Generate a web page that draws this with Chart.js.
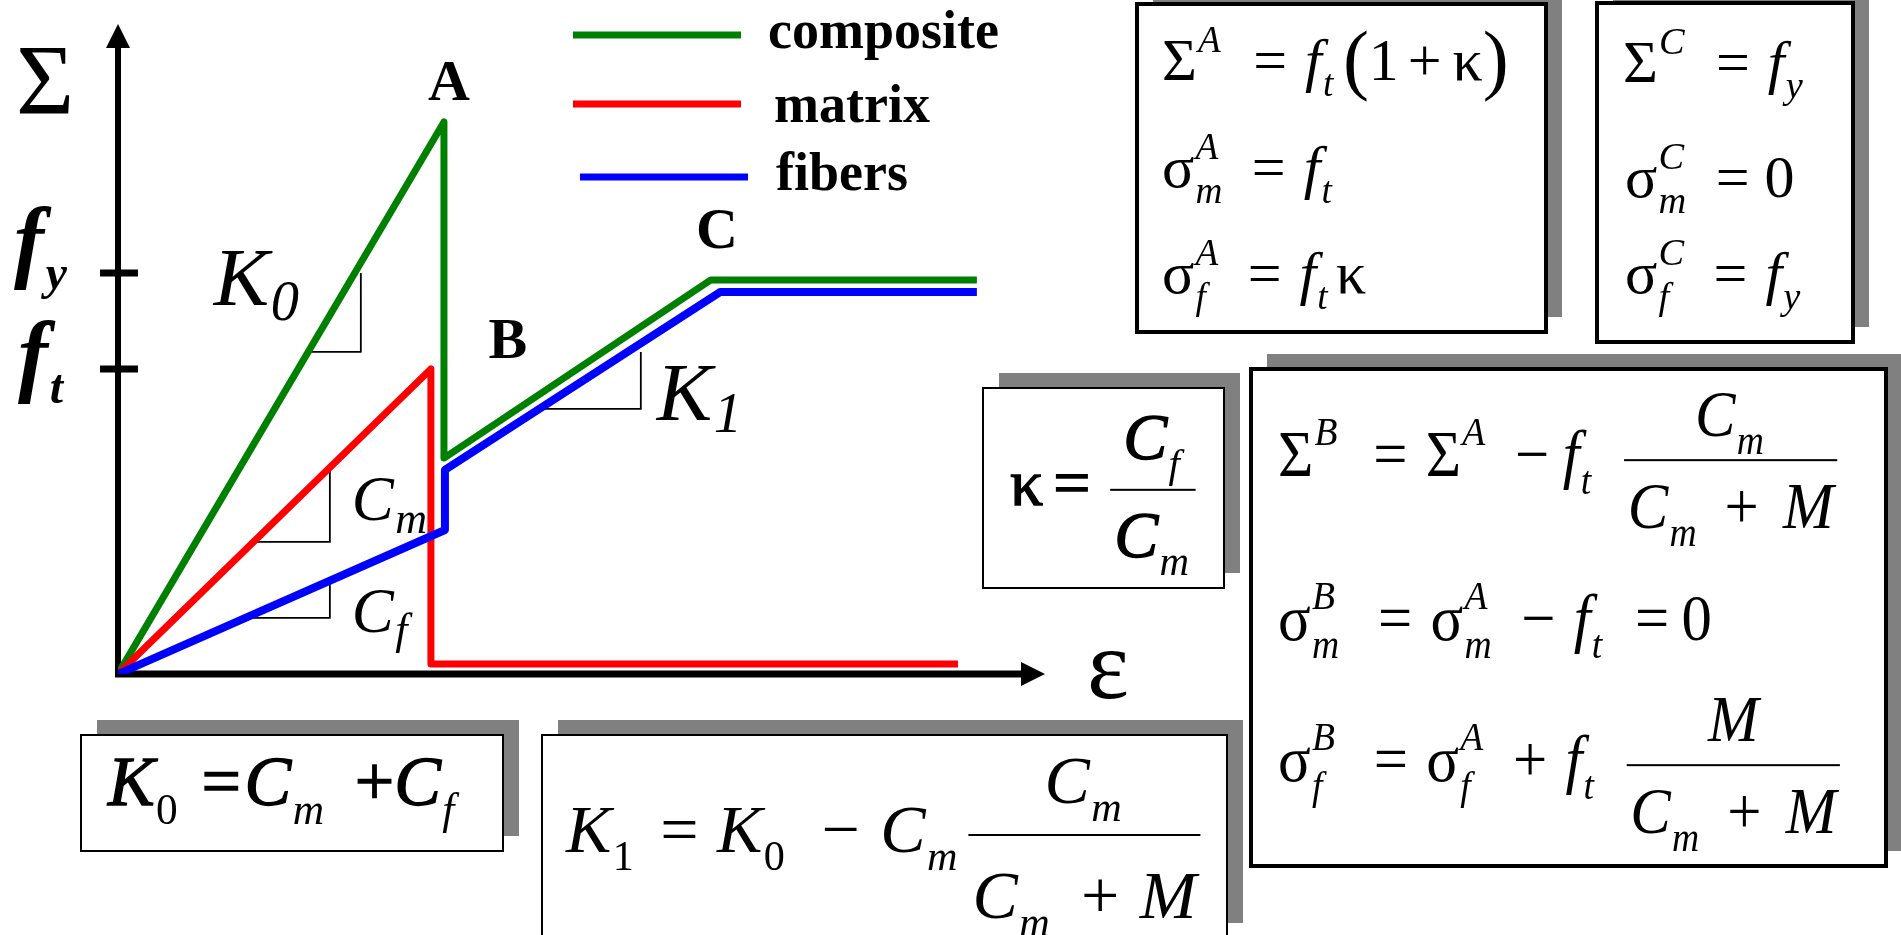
<!DOCTYPE html>
<html>
<head>
<meta charset="utf-8">
<title>Composite stress-strain</title>
<script src="https://cdn.jsdelivr.net/npm/chart.js@4.4.1/dist/chart.umd.min.js"></script>
<style>
  html, body { margin: 0; padding: 0; background: #fff; }
  canvas { display: block; }
</style>
</head>
<body>
<canvas id="chart" width="1901" height="935"></canvas>
<script>
// strain normalised by the strain at A, stress normalised by f_t
const compositeStrain = [0, 1.0, 1.0, 1.819, 2.635];
const compositeStress = [0, 1.81, 0.708, 1.292, 1.292];
const matrixStrain = [0, 0.96, 0.96, 2.577];
const matrixStress = [0, 1.0, 0.033, 0.033];
const fibersStrain = [0, 1.003, 1.003, 1.847, 2.635];
const fibersStress = [0, 0.472, 0.669, 1.252, 1.252];

// stress ticks: f_t and f_y
const stressTicks = [1.0, 1.315];
const stressTickNames = ['t', 'y'];

// slope triangles [strain, stress]
const slopeK0 = [[0.592, 1.056], [0.745, 1.056], [0.745, 1.315]];
const slopeCm = [[0.414, 0.433], [0.650, 0.433], [0.650, 0.689]];
const slopeCf = [[0.414, 0.184], [0.650, 0.184], [0.650, 0.308]];
const slopeK1 = [[1.310, 0.869], [1.604, 0.869], [1.604, 1.056]];

const seriesNames = ['composite', 'matrix', 'fibers'];
const seriesColors = ['#008000', '#ff0000', '#0000ff'];

const STRAIN_MAX = 2.844;
const STRESS_MAX = 2.131;

function pts(xs, ys) {
  return xs.map(function (x, i) { return { x: x, y: ys[i] }; });
}
function pairs(arr) {
  return arr.map(function (p) { return { x: p[0], y: p[1] }; });
}

// ---- small equation typesetter -------------------------------------------
const SERIF = '"Liberation Serif", "Times New Roman", serif';
function fontOf(st, size, bold) {
  return (st === 'i' ? 'italic ' : '') + (bold ? 'bold ' : '') + size.toFixed(1) + 'px ' + SERIF;
}
const N = function (t) { return { k: 't', t: t, st: 'n' }; };
const I = function (t) { return { k: 't', t: t, st: 'i' }; };
const S = function (sub, sup, st) { return { k: 's', sub: sub, sup: sup, st: st }; };
const G = function (em) { return { k: 'g', em: em }; };
const P = function (t, scale) { return { k: 'p', t: t, scale: scale }; };
const F = function (num, den) { return { k: 'f', num: num, den: den }; };

function put(ctx, text, x, y, o) {
  ctx.fillText(text, x, y);
  if (o.heavy) ctx.strokeText(text, x, y);
}

function layout(ctx, items, size, o, x, y, draw) {
  var cx = x;
  items.forEach(function (it) {
    if (it.k === 't') {
      ctx.font = fontOf(it.st, size, o.bold && it.st === 'i');
      if (draw) put(ctx, it.t, cx, y, o);
      cx += ctx.measureText(it.t).width;
    } else if (it.k === 'g') {
      cx += it.em * size;
    } else if (it.k === 'p') {
      var s = size * it.scale;
      ctx.font = fontOf('n', s, false);
      if (draw) ctx.fillText(it.t, cx, y + 0.255 * (s - size));
      cx += ctx.measureText(it.t).width;
    } else if (it.k === 's') {
      var ss = size * (o.ss || 0.62);
      var w = 0;
      [[it.sub, o.drop || 0.27], [it.sup, -(o.rise || 0.47)]].forEach(function (e) {
        if (!e[0]) return;
        var st = it.st || (/\d/.test(e[0]) ? 'n' : 'i');
        ctx.font = fontOf(st, ss, o.boldScripts);
        if (draw) ctx.fillText(e[0], cx + size * 0.02, y + size * e[1]);
        w = Math.max(w, ctx.measureText(e[0]).width + size * 0.02);
      });
      cx += w + size * 0.04;
    } else if (it.k === 'f') {
      var nw = layout(ctx, it.num, size, o, 0, 0, false);
      var dw = layout(ctx, it.den, size, o, 0, 0, false);
      var fw = Math.max(nw, dw) + size * 0.12;
      var bar = y - size * (o.axis || 0.25);
      if (draw) {
        layout(ctx, it.num, size, o, cx + (fw - nw) / 2, bar - size * (o.numUp || 0.42), true);
        layout(ctx, it.den, size, o, cx + (fw - dw) / 2, bar + size * (o.denDown || 1.12), true);
        ctx.fillRect(cx, bar - 1, fw, 2);
      }
      cx += fw;
    }
  });
  return cx - x;
}

function typeset(ctx, x, y, size, items, o) {
  o = o || {};
  ctx.save();
  ctx.translate(x, y);
  ctx.scale(o.sx || 1, 1);
  ctx.fillStyle = '#000';
  ctx.strokeStyle = '#000';
  ctx.lineWidth = 1.3;
  ctx.textBaseline = 'alphabetic';
  ctx.textAlign = 'left';
  layout(ctx, items, size, o, 0, 0, true);
  ctx.restore();
}

// ---- formula panels --------------------------------------------------------
const panels = [
  { box: [1137, 4, 409, 328], lw: 4, size: 60, lines: [
    [1162, 80, [N('Σ'), S(null, 'A'), G(0.5), N('='), G(0.3), I('f'), S('t'), G(0.12), P('(', 1.3), N('1'), G(0.15), N('+'), G(0.18), N('κ'), P(')', 1.3)]],
    [1162, 187, [N('σ'), S('m', 'A'), G(0.45), N('='), G(0.3), I('f'), S('t')]],
    [1162, 293, [N('σ'), S('f', 'A'), G(0.45), N('='), G(0.3), I('f'), S('t'), G(0.1), N('κ')]]
  ] },
  { box: [1597, 3, 256, 339], lw: 4, size: 60, opt: { ss: 0.64 }, lines: [
    [1623, 82, [N('Σ'), S(null, 'C'), G(0.48), N('='), G(0.3), I('f'), S('y')]],
    [1625, 197, [N('σ'), S('m', 'C'), G(0.45), N('='), G(0.25), N('0')]],
    [1625, 293, [N('σ'), S('f', 'C'), G(0.45), N('='), G(0.3), I('f'), S('y')]]
  ] },
  { box: [983, 388, 241, 200], lw: 2, size: 66, opt: { heavy: true, axis: 0.23, numUp: 0.47, denDown: 1.02 }, lines: [
    [1010, 505, [N('κ'), G(0.15), N('='), G(0.3), F([I('C'), S('f')], [I('C'), S('m')])]]
  ] },
  { box: [1251, 369, 635, 497], lw: 4, size: 66, opt: { sx: 0.92, axis: 0.24, numUp: 0.36, denDown: 1.03 }, lines: [
    [1278, 476, [N('Σ'), S(null, 'B'), G(0.55), N('='), G(0.3), N('Σ'), S(null, 'A'), G(0.45), N('−'), G(0.22), I('f'), S('t'), G(0.5),
      F([I('C'), S('m')], [I('C'), S('m'), G(0.42), N('+'), G(0.4), I('M')])]],
    [1278, 640, [N('σ'), S('m', 'B'), G(0.6), N('='), G(0.3), N('σ'), S('m', 'A'), G(0.45), N('−'), G(0.3), I('f'), S('t'), G(0.5), N('='), G(0.2), N('0')]],
    [1278, 781, [N('σ'), S('f', 'B'), G(0.6), N('='), G(0.3), N('σ'), S('f', 'A'), G(0.45), N('+'), G(0.3), I('f'), S('t'), G(0.5),
      F([I('M')], [I('C'), S('m'), G(0.42), N('+'), G(0.4), I('M')])]]
  ] },
  { box: [81, 735, 422, 116], lw: 2, size: 70, opt: { heavy: true }, lines: [
    [108, 805, [I('K'), S('0'), G(0.3), N('='), G(0.05), I('C'), S('m'), G(0.4), N('+'), I('C'), S('f')]]
  ] },
  { box: [542, 735, 685, 203], lw: 2, size: 68, opt: { numUp: 0.47, denDown: 1.22 }, lines: [
    [566, 852, [I('K'), S('1'), G(0.35), N('='), G(0.27), I('K'), S('0'), G(0.5), N('−'), G(0.3), I('C'), S('m'), G(0.12),
      F([I('C'), S('m')], [I('C'), S('m'), G(0.42), N('+'), G(0.3), I('M')])]]
  ] }
];

function drawPanel(ctx, p) {
  var b = p.box;
  ctx.save();
  ctx.fillStyle = '#808080';
  ctx.fillRect(b[0] + 16, b[1] - 15, b[2], b[3]);
  ctx.fillStyle = '#fff';
  ctx.fillRect(b[0], b[1], b[2], b[3]);
  ctx.strokeStyle = '#000';
  ctx.lineWidth = p.lw;
  ctx.strokeRect(b[0], b[1], b[2], b[3]);
  ctx.restore();
  p.lines.forEach(function (l) { typeset(ctx, l[0], l[1], p.size, l[2], p.opt); });
}

// ---- axes with arrow heads and f_t / f_y ticks -----------------------------
const axesPlugin = {
  id: 'arrowAxes',
  beforeDatasetsDraw: function (chart) {
    var ctx = chart.ctx, xs = chart.scales.x, ys = chart.scales.y;
    var x0 = xs.getPixelForValue(0), y0 = ys.getPixelForValue(0);
    var xEnd = xs.getPixelForValue(STRAIN_MAX), yEnd = ys.getPixelForValue(STRESS_MAX);
    ctx.save();
    ctx.fillStyle = '#000';
    ctx.strokeStyle = '#000';
    ctx.lineWidth = 6;
    ctx.beginPath(); ctx.moveTo(x0, y0 + 3); ctx.lineTo(x0, yEnd + 20); ctx.stroke();
    ctx.beginPath(); ctx.moveTo(x0, yEnd); ctx.lineTo(x0 - 12, yEnd + 24); ctx.lineTo(x0 + 12, yEnd + 24); ctx.closePath(); ctx.fill();
    ctx.lineWidth = 7;
    ctx.beginPath(); ctx.moveTo(x0 - 3, y0); ctx.lineTo(xEnd - 20, y0); ctx.stroke();
    ctx.beginPath(); ctx.moveTo(xEnd, y0); ctx.lineTo(xEnd - 24, y0 - 12); ctx.lineTo(xEnd - 24, y0 + 12); ctx.closePath(); ctx.fill();

    stressTicks.forEach(function (v, i) {
      var py = ys.getPixelForValue(v);
      ctx.lineWidth = 7;
      ctx.beginPath(); ctx.moveTo(x0 - 18, py); ctx.lineTo(x0 + 20, py); ctx.stroke();
      var isY = stressTickNames[i] === 'y';
      typeset(ctx, x0 - (isY ? 104 : 100), py + (isY ? -2 : 16), 90,
        [I('f'), S(stressTickNames[i], null)], { bold: true, boldScripts: true, ss: 0.53, drop: 0.2 });
    });
    ctx.restore();
  }
};

// ---- labels, legend and formula panels -------------------------------------
const overlayPlugin = {
  id: 'overlay',
  afterDraw: function (chart) {
    var ctx = chart.ctx, xs = chart.scales.x, ys = chart.scales.y;
    function px(p) { return [xs.getPixelForValue(p[0]), ys.getPixelForValue(p[1])]; }
    var x0 = xs.getPixelForValue(0), y0 = ys.getPixelForValue(0);
    ctx.save();
    ctx.fillStyle = '#000';

    // axis names
    ctx.font = '100px ' + SERIF;
    ctx.fillText('Σ', x0 - 102, 113);
    ctx.fillText('ε', xs.getPixelForValue(STRAIN_MAX) + 42, y0 + 24);

    // A, B, C
    ctx.font = 'bold 58px ' + SERIF;
    ctx.textAlign = 'center';
    var a = px([compositeStrain[1], compositeStress[1]]);
    var b = px([compositeStrain[2], compositeStress[2]]);
    var c = px([compositeStrain[3], compositeStress[3]]);
    ctx.fillText('A', a[0] + 5, a[1] - 22);
    ctx.fillText('B', b[0] + 64, b[1] - 100);
    ctx.fillText('C', c[0] + 6, c[1] - 32);
    ctx.textAlign = 'left';

    // slope names
    var k0 = px(slopeK0[1]), k1 = px(slopeK1[1]), cm = px(slopeCm[1]), cf = px(slopeCf[1]);
    typeset(ctx, k0[0] - 147, k0[1] - 47, 83, [I('K'), S('0', null, 'i')], { ss: 0.68, drop: 0.18 });
    typeset(ctx, k1[0] + 16, k1[1] + 11, 83, [I('K'), S('1', null, 'i')], { ss: 0.68, drop: 0.15 });
    typeset(ctx, cm[0] + 22, cm[1] - 22, 63, [I('C'), S('m')], { ss: 0.7, drop: 0.2 });
    typeset(ctx, cf[0] + 22, cf[1] + 14, 63, [I('C'), S('f')], { ss: 0.7, drop: 0.2 });

    // legend
    var rows = [[573, 35, 768, 48], [573, 104, 774, 122], [580, 177, 776, 190]];
    ctx.font = 'bold 54px ' + SERIF;
    rows.forEach(function (r, i) {
      ctx.strokeStyle = seriesColors[i];
      ctx.lineWidth = 7;
      ctx.beginPath(); ctx.moveTo(r[0], r[1]); ctx.lineTo(r[0] + 168, r[1]); ctx.stroke();
      ctx.fillStyle = '#000';
      ctx.fillText(seriesNames[i], r[2], r[3]);
    });

    panels.forEach(function (p) { drawPanel(ctx, p); });
    ctx.restore();
  }
};

function lineSet(label, data, color, width) {
  return {
    label: label, data: data, showLine: true, fill: false,
    borderColor: color, backgroundColor: color, borderWidth: width,
    borderJoinStyle: 'round', pointRadius: 0, tension: 0
  };
}

new Chart(document.getElementById('chart'), {
  type: 'scatter',
  data: {
    datasets: [
      lineSet(seriesNames[2], pts(fibersStrain, fibersStress), seriesColors[2], 8),
      lineSet(seriesNames[1], pts(matrixStrain, matrixStress), seriesColors[1], 7),
      lineSet(seriesNames[0], pts(compositeStrain, compositeStress), seriesColors[0], 7),
      lineSet('K0', pairs(slopeK0), '#000', 1.8),
      lineSet('Cm', pairs(slopeCm), '#000', 1.8),
      lineSet('Cf', pairs(slopeCf), '#000', 1.8),
      lineSet('K1', pairs(slopeK1), '#000', 1.8)
    ]
  },
  options: {
    responsive: false,
    animation: false,
    layout: { padding: { left: 118, right: 856, top: 24, bottom: 261 } },
    scales: {
      x: { type: 'linear', min: 0, max: STRAIN_MAX, display: false },
      y: { type: 'linear', min: 0, max: STRESS_MAX, display: false }
    },
    plugins: { legend: { display: false }, tooltip: { enabled: false } }
  },
  plugins: [axesPlugin, overlayPlugin]
});
</script>
</body>
</html>
